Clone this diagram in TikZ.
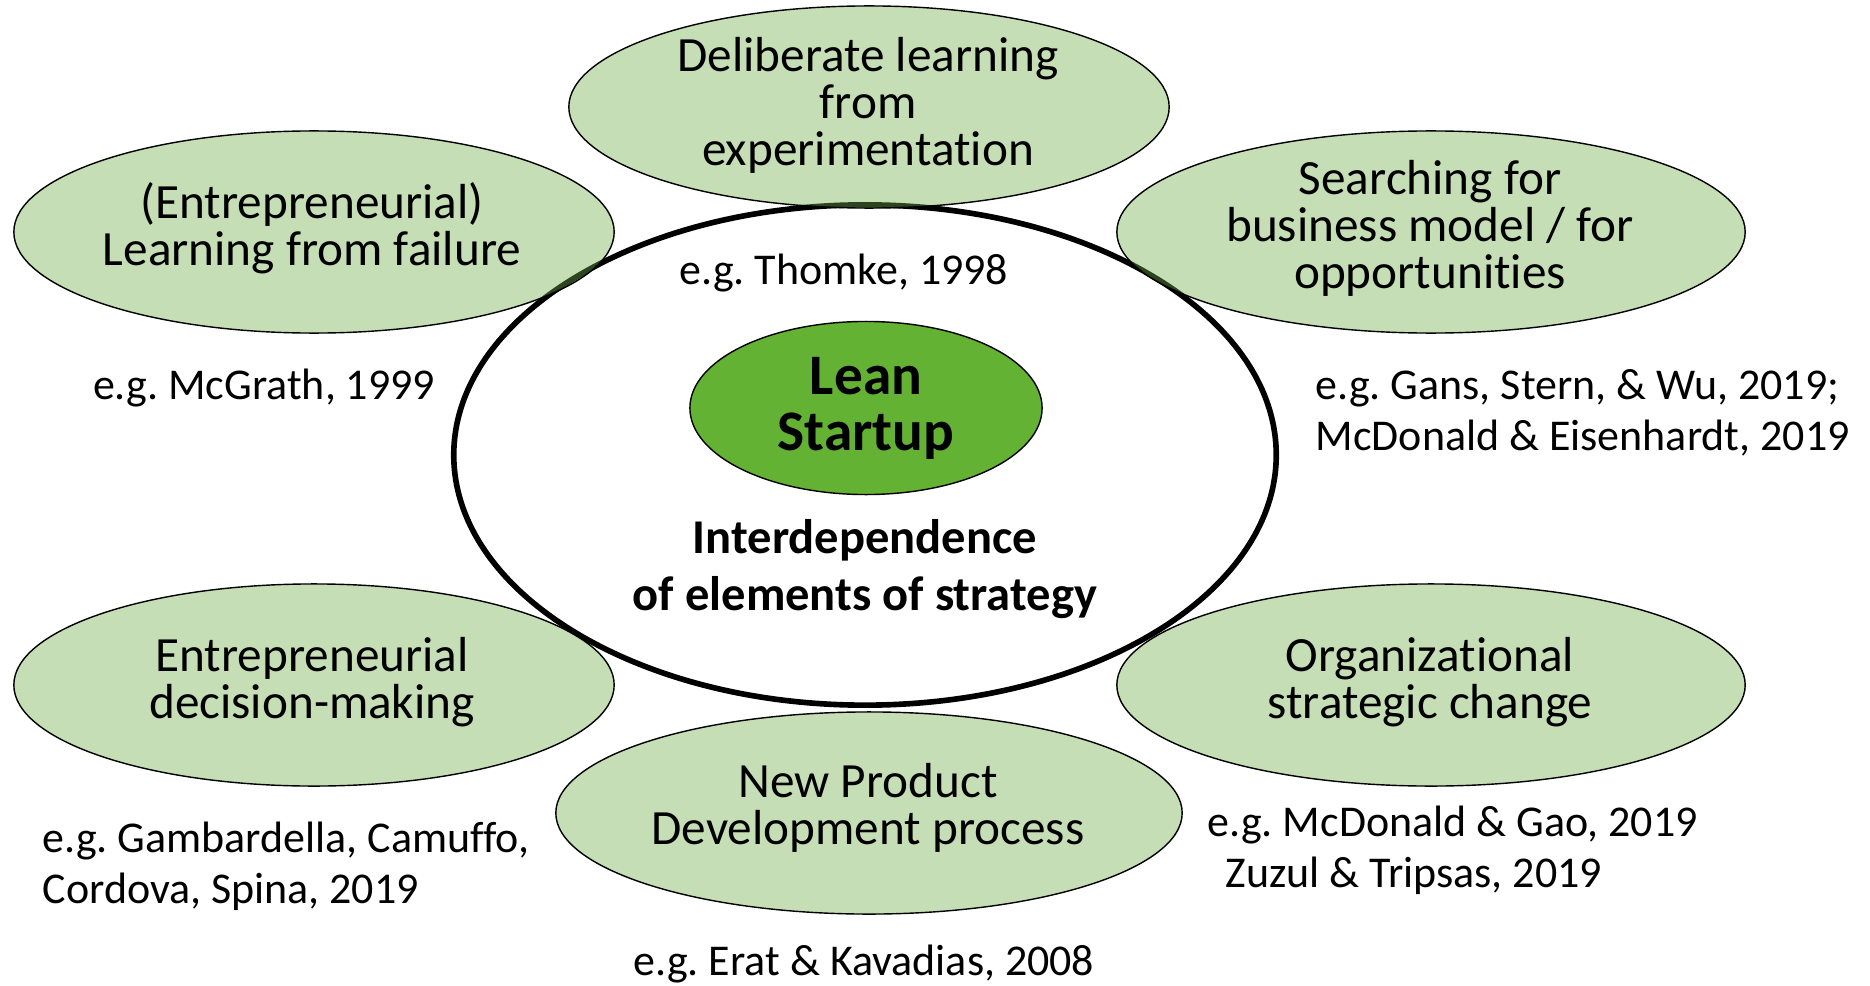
\documentclass[tikz,border=0pt]{standalone}
\usepackage{fontspec}
\setmainfont[Ligatures=NoCommon]{Carlito}
\frenchspacing
\usetikzlibrary{shapes.geometric}
\definecolor{accgreen}{RGB}{112,173,71}
\definecolor{leangreen}{RGB}{99,178,52}
\tikzset{
  every picture/.append style={line width=0.4pt},
}
\tikzset{
  idea/.style={ellipse, draw, fill=accgreen, fill opacity=0.4, inner sep=0pt, minimum height=2.02cm},
  itext/.style={align=center, inner sep=0pt, font=\fontsize{14}{13.4}\selectfont},
  cite/.style={align=left, inner sep=0pt, font=\fontsize{12.5}{14.5}\selectfont}
}

\begin{document}
\begin{tikzpicture}[x=0.01cm, y=-0.01cm,
  core/.style={ellipse, draw, line width=1.6pt, fill=white, minimum width=8.22cm, minimum height=5cm, inner sep=0pt},
  lean/.style={ellipse, draw, fill=leangreen, minimum width=3.52cm, minimum height=1.73cm, inner sep=0pt}
]
\useasboundingbox (0,0) rectangle (1870,985);

% Strategy ellipse with the core idea
\node[core] (frame) at (865,455) {};
\node[lean] (lean) at (866,408) {};
\node[align=center, inner sep=0pt, font=\bfseries\fontsize{16.3}{15.9}\selectfont] (leantxt) at (lean) {Lean\\Startup};
\node[align=center, inner sep=0pt, font=\bfseries\fontsize{13.8}{16.2}\selectfont] (interdep) at (865,569) {Interdependence\\of elements of strategy};

% Related streams (semi-transparent, on top of the frame)
\node[idea, minimum width=6cm] (delib) at (869,107) {};
\node[idea, minimum width=6cm] (failure) at (314,232) {};
\node[idea, minimum width=6.28cm] (search) at (1431,232) {};
\node[idea, minimum width=6cm] (decision) at (314,685) {};
\node[idea, minimum width=6.26cm] (npd) at (869,813) {};
\node[idea, minimum width=6.28cm] (orgchange) at (1431,685) {};

\node[itext] (delibtxt) at (868,105) {Deliberate learning\\from\\experimentation};
\node[itext] (failuretxt) at (312,228) {(Entrepreneurial)\\Learning from failure};
\node[itext] (searchtxt) at (1430,228) {Searching for\\business model / for\\opportunities};
\node[itext] (decisiontxt) at (312,682) {Entrepreneurial\\decision-making};
\node[itext] (npdtxt) at (868,808) {New Product\\Development process};
\node[itext] (orgtxt) at (1430,682) {Organizational\\strategic change};

% References
\node[cite] (thomke) at (844,273) {e.g. Thomke, 1998};
\node[cite] (mcgrath) at (264,388) {e.g. McGrath, 1999};
\node[cite, anchor=west] (gans) at (1315,413) {e.g. Gans, Stern, \& Wu, 2019;\\McDonald \& Eisenhardt, 2019};
\node[cite, anchor=west] (gamb) at (42,866) {e.g. Gambardella, Camuffo,\\Cordova, Spina, 2019};
\node[cite, anchor=west] (gao) at (1207,850) {e.g. McDonald \& Gao, 2019\\\hspace*{0.18cm}Zuzul \& Tripsas, 2019};
\node[cite] (erat) at (864,964) {e.g. Erat \& Kavadias, 2008};

\end{tikzpicture}
\end{document}
